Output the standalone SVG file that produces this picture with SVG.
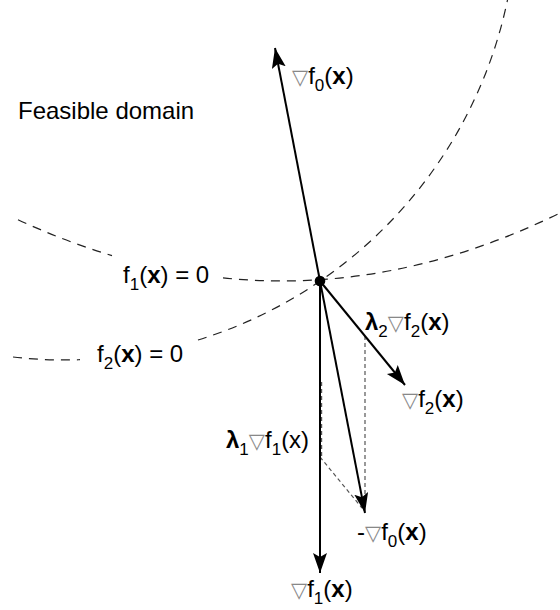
<svg xmlns="http://www.w3.org/2000/svg" width="560" height="610" viewBox="0 0 560 610">
<style>
.curve{fill:none;stroke:#222;stroke-width:1.2;stroke-dasharray:9,7}
.vec{fill:none;stroke:#000;stroke-width:2}
.guide{fill:none;stroke:#555;stroke-width:1.2;stroke-dasharray:4,3}
text{font-family:"Liberation Sans",Arial,sans-serif;font-size:24px;fill:#000}
.sub{font-size:17px}
.b{font-weight:bold}
.nab{font-family:"DejaVu Sans",sans-serif;font-size:21px;fill:#888}
</style>
<defs>
<marker id="ah" markerUnits="userSpaceOnUse" markerWidth="22" markerHeight="16" refX="20" refY="7" orient="auto">
<path d="M0,0 L20,7 L0,14 L4,7 Z" fill="#000"/>
</marker>
</defs>
<rect width="560" height="610" fill="#fff"/>
<g id="curves">
<path class="curve" d="M18,219.7 Q65,241.5 112,255.6"/>
<path class="curve" d="M223,277.9 Q391.5,295.4 560,213"/>
<path class="curve" d="M13,357 A452,452 0 0 0 80,359.7"/>
<path class="curve" d="M198,340 A452,452 0 0 0 507.5,0"/>
</g>
<g id="connectors">
<line class="guide" x1="365" y1="336" x2="365" y2="505"/>
<line class="guide" x1="320" y1="457" x2="362" y2="508"/>
<line class="guide" x1="321.6" y1="382" x2="321.6" y2="457"/>
<line class="vec" x1="320" y1="281" x2="275" y2="48" marker-end="url(#ah)"/>
<line class="vec" x1="320" y1="281" x2="320" y2="573" marker-end="url(#ah)"/>
<line class="vec" x1="320" y1="281" x2="405" y2="385" marker-end="url(#ah)"/>
<line class="vec" x1="320" y1="281" x2="365" y2="513" marker-end="url(#ah)"/>
</g>
<g id="point"><circle cx="320" cy="281" r="5.3" fill="#000"/></g>
<g id="labels">
<text id="feasible" x="18" y="119">Feasible domain</text>
<text id="lbl-gf0" x="292" y="84"><tspan class="nab">▽</tspan>f<tspan class="sub" dy="7">0</tspan><tspan dy="-7">(</tspan><tspan class="b">x</tspan>)</text>
<text id="lbl-f1" x="123" y="283">f<tspan class="sub" dy="7">1</tspan><tspan dy="-7">(</tspan><tspan class="b">x</tspan>) = 0</text>
<text id="lbl-f2" x="97" y="362">f<tspan class="sub" dy="7">2</tspan><tspan dy="-7">(</tspan><tspan class="b">x</tspan>) = 0</text>
<text id="lbl-l2" x="365" y="330"><tspan class="b">λ</tspan><tspan class="sub" dy="7">2</tspan><tspan class="nab" dy="-7">▽</tspan>f<tspan class="sub" dy="7">2</tspan><tspan dy="-7">(</tspan><tspan class="b">x</tspan>)</text>
<text id="lbl-gf2" x="402" y="407"><tspan class="nab">▽</tspan>f<tspan class="sub" dy="7">2</tspan><tspan dy="-7">(</tspan><tspan class="b">x</tspan>)</text>
<text id="lbl-l1" x="226" y="448"><tspan class="b">λ</tspan><tspan class="sub" dy="7">1</tspan><tspan class="nab" dy="-7">▽</tspan>f<tspan class="sub" dy="7">1</tspan><tspan dy="-7">(x)</tspan></text>
<text id="lbl-mgf0" x="357" y="540">-<tspan class="nab">▽</tspan>f<tspan class="sub" dy="7">0</tspan><tspan dy="-7">(</tspan><tspan class="b">x</tspan>)</text>
<text id="lbl-gf1" x="291" y="597"><tspan class="nab">▽</tspan>f<tspan class="sub" dy="7">1</tspan><tspan dy="-7">(</tspan><tspan class="b">x</tspan>)</text>
</g>
</svg>
